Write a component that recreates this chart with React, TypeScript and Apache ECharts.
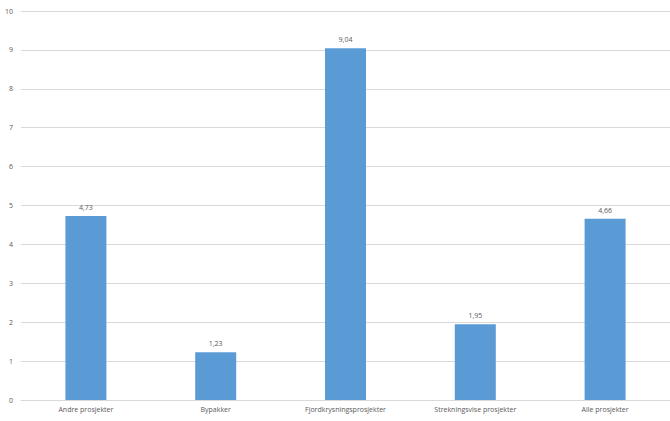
import React, { useEffect, useRef } from "react";
import * as echarts from "echarts";

const categories = [
  "Andre prosjekter",
  "Bypakker",
  "Fjordkrysningsprosjekter",
  "Strekningsvise prosjekter",
  "Alle prosjekter",
];
const values = [4.73, 1.23, 9.04, 1.95, 4.66];

export default function App() {
  const ref = useRef<HTMLDivElement>(null);
  useEffect(() => {
    if (!ref.current) return;
    const chart = echarts.init(ref.current, undefined, { renderer: "svg" });
    chart.setOption({
      animation: false,
      grid: { left: 21, right: -1, top: 11, bottom: 21, containLabel: false },
      xAxis: {
        type: "category",
        data: categories,
        axisLine: { show: true, lineStyle: { color: "#d9d9d9" } },
        axisTick: { show: false },
        axisLabel: {
          color: "#595959",
          fontSize: 7,
          fontFamily: "Open Sans",
          margin: 6,
          interval: 0,
        },
      },
      yAxis: {
        type: "value",
        min: 0,
        max: 10,
        interval: 1,
        axisLine: { show: false },
        axisTick: { show: false },
        splitLine: { lineStyle: { color: "#d9d9d9", width: 1 } },
        axisLabel: {
          color: "#595959",
          fontSize: 7,
          fontFamily: "Open Sans",
          margin: 8,
        },
      },
      series: [
        {
          type: "bar",
          data: values,
          barWidth: 41,
          itemStyle: { color: "#5B9BD5" },
          label: {
            show: true,
            position: "top",
            distance: 5,
            color: "#595959",
            fontSize: 7,
            fontFamily: "Open Sans",
            formatter: (p: any) => p.value.toFixed(2).replace(".", ","),
          },
        },
      ],
    });
    return () => chart.dispose();
  }, []);
  return (
    <div
      ref={ref}
      style={{ position: "fixed", left: 0, top: 0, width: 670, height: 421, background: "#fff" }}
    />
  );
}
